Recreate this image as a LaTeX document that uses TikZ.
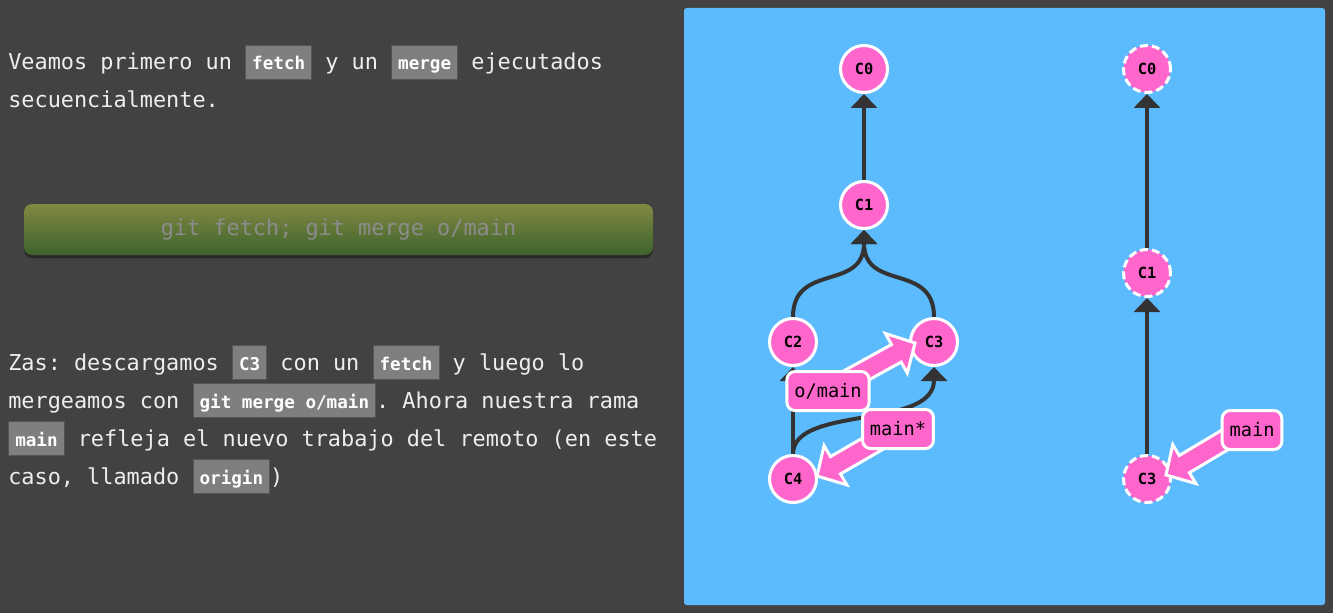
\documentclass[tikz,border=0pt]{standalone}
\usepackage{fontspec}
\setmonofont{DejaVu Sans Mono}
\usetikzlibrary{arrows.meta,calc}
\definecolor{bgdark}{HTML}{424242}
\definecolor{panelblue}{HTML}{5CBBFC}
\definecolor{commitpink}{HTML}{FF66CC}
\definecolor{edgedark}{HTML}{333333}
\definecolor{codegray}{HTML}{7F7F7F}
\definecolor{codeedge}{HTML}{555555}
\definecolor{textlight}{HTML}{EEEEEE}
\definecolor{btntop}{HTML}{818943}
\definecolor{btnbottom}{HTML}{3D632B}
\definecolor{btntext}{HTML}{8C8C8C}
\newcommand\codebox[1]{{\setlength\fboxsep{0pt}\setlength\fboxrule{0.75pt}%
  \fcolorbox{codeedge}{codegray}{\rule[-6.75pt]{0pt}{24.75pt}\hspace{4.5pt}%
  \textcolor{white}{\bfseries\fontsize{13.2pt}{13.2pt}\selectfont #1}\hspace{4.5pt}}}}
\newcommand\brancharrow[2]{%
  \coordinate (ah) at ($(#2)!16pt!(#1)$);
  \filldraw[branchline] ($(#1)!7.5pt!90:(#2)$) -- ($(ah)!7.5pt!90:(#2)$)
    -- ($(ah)!17pt!90:(#2)$) -- (#2) -- ($(ah)!17pt!-90:(#2)$)
    -- ($(ah)!7.5pt!-90:(#2)$) -- ($(#1)!7.5pt!-90:(#2)$) -- cycle;}
\begin{document}
\begin{tikzpicture}[x=0.75pt,y=-0.75pt,
    textline/.style={anchor=base west,inner sep=0pt,text=textlight,
      font=\ttfamily\fontsize{16.4pt}{20pt}\selectfont},
    commit/.style={circle,fill=commitpink,draw=white,line width=2.25pt,
      minimum size=35.25pt,inner sep=0pt,
      font=\ttfamily\bfseries\fontsize{11.5pt}{11.5pt}\selectfont},
    ghost/.style={commit,dash pattern=on 6pt off 3pt},
    parentedge/.style={draw=edgedark,line width=3pt,
      -{Triangle[length=10.5pt,width=19.5pt]}},
    branch/.style={rectangle,rounded corners=6pt,fill=commitpink,draw=white,
      line width=2.25pt,inner xsep=5.5pt,minimum height=29.25pt,
      font=\ttfamily\fontsize{14pt}{14pt}\selectfont},
    branchline/.style={fill=commitpink,draw=white,line width=2.25pt}]
  \useasboundingbox (0,0) rectangle (1333,613);
  \fill[bgdark] (0,0) rectangle (1333,613);
  % explanation
  \node[textline] (intro1) at (8,70)
    {Veamos primero un \codebox{fetch} y un \codebox{merge} ejecutados};
  \node[textline] (intro2) at (8,108) {secuencialmente.};
  \fill[black!40!bgdark,rounded corners=6pt] (24,207) rectangle (653,258);
  \node[rounded corners=6pt,top color=btntop,bottom color=btnbottom,
    minimum width=471.75pt,minimum height=38.25pt,text=btntext,
    font=\ttfamily\fontsize{16.4pt}{20pt}\selectfont] (runbtn) at (338.5,229.5)
    {git fetch; git merge o/main};
  \node[textline] (zas1) at (8,370)
    {Zas: descargamos \codebox{C3} con un \codebox{fetch} y luego lo};
  \node[textline] (zas2) at (8,408)
    {mergeamos con \codebox{git merge o/main}. Ahora nuestra rama};
  \node[textline] (zas3) at (8,446)
    {\codebox{main} refleja el nuevo trabajo del remoto (en este};
  \node[textline] (zas4) at (8,484) {caso, llamado \codebox{origin})};
  % panel
  \fill[panelblue,rounded corners=2pt] (684,8) rectangle (1325,605);
  \draw
    (864,69) node[commit] (c0) {C0}
    (864,205) node[commit] (c1) {C1}
    (793,342) node[commit] (c2) {C2}
    (934,342) node[commit] (c3) {C3}
    (793,479) node[commit] (c4) {C4}
    (1147,69) node[ghost] (r0) {C0}
    (1147,273) node[ghost] (r1) {C1}
    (1147,479) node[ghost] (r3) {C3};
  \begin{scope}[parentedge]
    \draw (c1) to (c0);
    \draw (c2.north) .. controls (793,262) and (864,292) .. (c1.south);
    \draw (c3.north) .. controls (934,262) and (864,292) .. (c1.south);
    \draw (c4) to (c2);
    \draw (c4.north) .. controls (793,405) and (934,430) .. (c3.south);
    \draw (r1) to (r0);
    \draw (r3) to (r1);
  \end{scope}
  % branches
  \coordinate (omainpos) at (828,391);
  \coordinate (omaintip) at (915,343);
  \coordinate (mainpos) at (898,429);
  \coordinate (maintip) at (817,476);
  \coordinate (rmainpos) at (1252,430);
  \coordinate (rmainfrom) at (1250,425);
  \coordinate (rmaintip) at (1166,475);
  \brancharrow{omainpos}{omaintip}
  \brancharrow{mainpos}{maintip}
  \brancharrow{rmainfrom}{rmaintip}
  \node[branch] (omain) at (omainpos) {o/main};
  \node[branch] (main) at (mainpos) {main*};
  \node[branch] (rmain) at (rmainpos) {main};
\end{tikzpicture}
\end{document}
